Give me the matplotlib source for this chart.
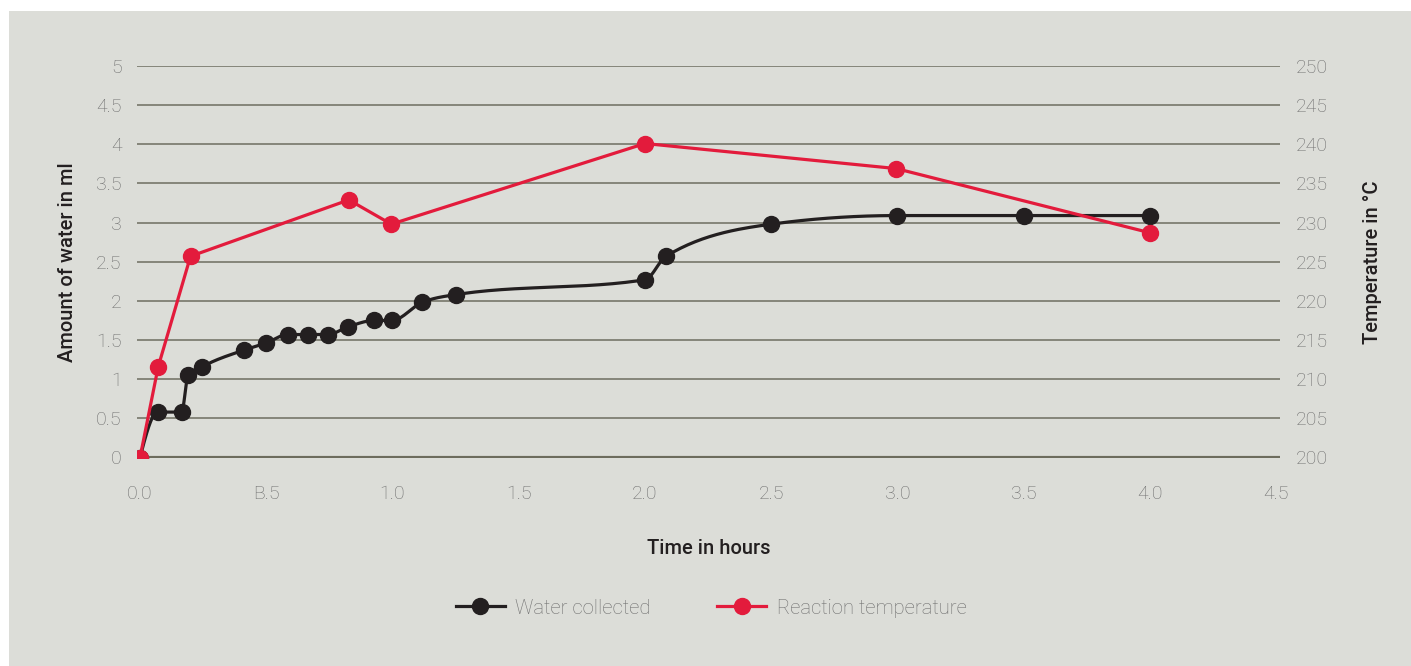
import numpy as np
import matplotlib
matplotlib.use('Agg')
import matplotlib.pyplot as plt
from matplotlib.patches import Rectangle
from matplotlib.lines import Line2D

# water collected (ml) over time (h)
water_t = [0, 0.07, 0.165, 0.19, 0.247, 0.41, 0.498, 0.585, 0.664, 0.743, 0.825,
           0.928, 0.997, 1.117, 1.25, 2.0, 2.083, 2.5, 3.0, 3.5, 4.0]
water_ml = [0, 0.58, 0.58, 1.05, 1.16, 1.37, 1.46, 1.57, 1.57, 1.57, 1.67,
            1.75, 1.75, 1.98, 2.08, 2.27, 2.57, 2.98, 3.09, 3.09, 3.09]

# reaction temperature (°C) over time (h)
temp_t = [0, 0.072, 0.2, 0.827, 0.995, 2.0, 2.995, 4.0]
temp_c = [200, 211.6, 225.7, 232.9, 229.8, 240.1, 236.9, 228.7]

x_ticks = [0, 0.5, 1, 1.5, 2, 2.5, 3, 3.5, 4, 4.5]
x_ticklabels = ['0.0', 'B.5', '1.0', '1.5', '2.0', '2.5', '3.0', '3.5', '4.0', '4.5']
y_ticks = [0, 0.5, 1, 1.5, 2, 2.5, 3, 3.5, 4, 4.5, 5]
y_ticklabels = ['0', '0.5', '1', '1.5', '2', '2.5', '3', '3.5', '4', '4.5', '5']
y2_ticks = [200, 205, 210, 215, 220, 225, 230, 235, 240, 245, 250]

BG = '#dcddd8'
GRID = '#85857a'
BLACK = '#231f20'
RED = '#e31b3c'
TICK = '#6e6e6e'

plt.rcParams['font.family'] = ['Roboto', 'DejaVu Sans']


def monotone_line(x, y, n=30):
    # monotone-x cubic (same rule as d3.curveMonotoneX), only to draw the smooth line
    x = np.asarray(x, float)
    y = np.asarray(y, float)
    h = np.diff(x)
    s = np.diff(y) / h
    m = np.zeros_like(y)
    for k in range(1, len(x) - 1):
        p = (s[k - 1] * h[k] + s[k] * h[k - 1]) / (h[k - 1] + h[k])
        m[k] = (np.sign(s[k - 1]) + np.sign(s[k])) * min(abs(s[k - 1]), abs(s[k]), 0.5 * abs(p))
    m[0] = (3 * s[0] - m[1]) / 2
    m[-1] = (3 * s[-1] - m[-2]) / 2
    xs, ys = [], []
    t = np.linspace(0, 1, n)
    for k in range(len(x) - 1):
        h00 = 2 * t**3 - 3 * t**2 + 1
        h10 = t**3 - 2 * t**2 + t
        h01 = -2 * t**3 + 3 * t**2
        h11 = t**3 - t**2
        xs.append(x[k] + t * h[k])
        ys.append(h00 * y[k] + h10 * h[k] * m[k] + h01 * y[k + 1] + h11 * h[k] * m[k + 1])
    return np.concatenate(xs), np.concatenate(ys)


fig = plt.figure(figsize=(14.11, 6.66), dpi=100, facecolor='white')
fig.patches.append(Rectangle((9 / 1411, 0), 1, 655 / 666, transform=fig.transFigure,
                             facecolor=BG, edgecolor='none', zorder=-10))

ax = fig.add_axes([137 / 1411, 208.5 / 666, 1143 / 1411, 391.5 / 666])
ax.set_facecolor('none')
ax.set_xlim(-0.012, 4.515)
ax.set_ylim(0, 5)
for s in ax.spines.values():
    s.set_visible(False)

for v in y_ticks[1:]:
    ax.axhline(v, color=GRID, lw=1.4, zorder=0)
ax.axhline(0, color='#6d6c5d', lw=3, zorder=0)

ax.set_xticks(x_ticks)
ax.set_xticklabels(x_ticklabels)
ax.set_yticks(y_ticks)
ax.set_yticklabels(y_ticklabels)
ax.tick_params(axis='both', length=0, labelsize=14, labelcolor=TICK)
ax.tick_params(axis='x', pad=20)
ax.tick_params(axis='y', pad=11)
for lab in ax.get_xticklabels() + ax.get_yticklabels():
    lab.set_fontweight('light')

cx, cy = monotone_line(water_t, water_ml)
ax.plot(cx, cy, color=BLACK, lw=2.3, zorder=3)
ax.plot(water_t, water_ml, 'o', color=BLACK, ms=11.5, zorder=4)

ax.set_xlabel('Time in hours', fontsize=14.5, color=BLACK, fontweight='medium', labelpad=26)
ax.set_ylabel('Amount of water in ml', fontsize=14.5, color=BLACK, fontweight='medium', labelpad=14)

ax2 = ax.twinx()
ax2.set_ylim(200, 250)
for s in ax2.spines.values():
    s.set_visible(False)
ax2.set_yticks(y2_ticks)
ax2.tick_params(axis='y', length=0, labelsize=14, labelcolor=TICK, pad=11.5)
for lab in ax2.get_yticklabels():
    lab.set_fontweight('light')
ax2.plot(temp_t, temp_c, '-o', color=RED, lw=2.3, ms=11.5, zorder=5)
ax2.set_ylabel('Temperature in °C', fontsize=14.5, color=BLACK, fontweight='medium', labelpad=25)

handles = [Line2D([], [], color=BLACK, lw=2.3, marker='o', ms=11.5),
           Line2D([], [], color=RED, lw=2.3, marker='o', ms=11.5)]
leg = fig.legend(handles, ['Water collected', 'Reaction temperature'], loc='center',
                 bbox_to_anchor=(711 / 1411, 1 - 608 / 666), ncol=2, frameon=False,
                 fontsize=14.6, handlelength=2.45, columnspacing=3.25, handletextpad=0.5)
for t in leg.get_texts():
    t.set_color(TICK)
    t.set_fontweight('light')

fig.savefig('out.png', dpi=100, facecolor='white')
